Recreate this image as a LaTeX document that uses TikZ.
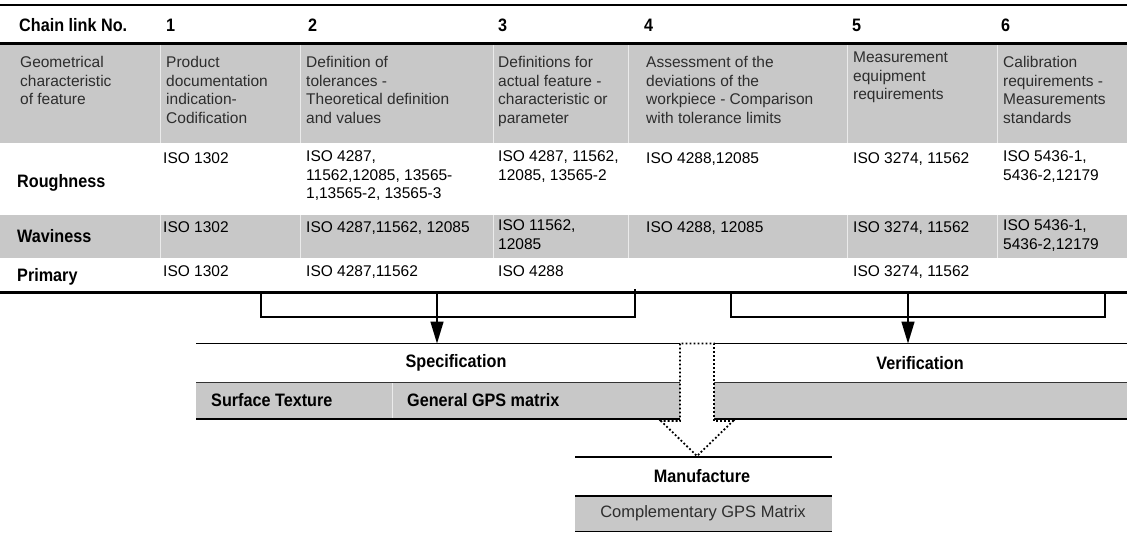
\documentclass[tikz,border=0pt]{standalone}
\usepackage{fontspec}
\setmainfont{Liberation Sans}
\newfontfamily\narrowbold{Liberation Sans}[FakeStretch=0.9]
\usetikzlibrary{arrows.meta}
\definecolor{band}{RGB}{200,200,200}
\definecolor{txt}{RGB}{45,45,45}
\definecolor{sep}{RGB}{235,235,235}
\newcommand\regf{\fontsize{15.5}{18.5}\selectfont}
\newcommand\bldf{\narrowbold\fontsize{18}{18.5}\selectfont\bfseries}
\begin{document}
\begin{tikzpicture}[x=1pt,y=-1pt,
  cell/.style={anchor=north west,inner sep=0pt,align=left,font=\regf,text=black,execute at begin node=\strut},
  desc/.style={cell,text=txt},
  lab/.style={anchor=north west,inner sep=0pt,font=\bldf,execute at begin node=\strut},
  title/.style={inner sep=0pt,font=\bldf},
  sepline/.style={draw=sep,line width=1pt},
  thick rule/.style={line width=2.3pt},
  bracket/.style={line width=2.4pt},
  stem/.style={line width=1.5pt,-{Triangle[length=22pt,width=13pt]}},
  dotarrow/.style={draw=black,line width=1.8pt,dash pattern=on 1.8pt off 2.2pt,fill=white}
]
\useasboundingbox (0,0) rectangle (1127,533);

% ---- gray bands of the table
\fill[band] (0,44) rectangle (1127,142.5);
\fill[band] (0,215) rectangle (1127,258);
\foreach \x in {160,300,493,628,847,997}{
  \draw[sepline] (\x,44) -- (\x,142.5);
  \draw[sepline] (\x,215) -- (\x,258);
}

% ---- rules
\draw[line width=2.6pt] (0,5) -- (1127,5);
\draw[thick rule] (0,43.5) -- (1127,43.5);
\draw[line width=2.1pt] (0,292.5) coordinate (ruleL) -- (1127,292.5) coordinate (ruleR);

% ---- header row
\node[lab] (hchain) at (19,18) {Chain link No.};
\node[lab] (h1) at (166,18) {1};
\node[lab] (h2) at (308,18) {2};
\node[lab] (h3) at (498,18) {3};
\node[lab] (h4) at (644,18) {4};
\node[lab] (h5) at (852,18) {5};
\node[lab] (h6) at (1001,18) {6};

% ---- description row
\node[desc] (d0) at (20,56.5) {Geometrical\\characteristic\\of feature};
\node[desc] (d1) at (166,56.5) {Product\\documentation\\indication-\\Codification};
\node[desc] (d2) at (306,56.5) {Definition of\\tolerances -\\Theoretical definition\\and values};
\node[desc] (d3) at (498,56.5) {Definitions for\\actual feature -\\characteristic or\\parameter};
\node[desc] (d4) at (646,56.5) {Assessment of the\\deviations of the\\workpiece - Comparison\\with tolerance limits};
\node[desc] (d5) at (853,52) {Measurement\\equipment\\requirements};
\node[desc] (d6) at (1003,56.5) {Calibration\\requirements -\\Measurements\\standards};

% ---- Roughness
\node[lab] (rough) at (17,174) {Roughness};
\node[cell] (r1) at (163,150.5) {ISO 1302};
\node[cell] (r2) at (306,150.5) {ISO 4287,\\11562,12085, 13565-\\1,13565-2, 13565-3};
\node[cell] (r3) at (498,150.5) {ISO 4287, 11562,\\12085, 13565-2};
\node[cell] (r4) at (646,150.5) {ISO 4288,12085};
\node[cell] (r5) at (853,150.5) {ISO 3274, 11562};
\node[cell] (r6) at (1003,150.5) {ISO 5436-1,\\5436-2,12179};

% ---- Waviness
\node[lab] (wav) at (17,229) {Waviness};
\node[cell] (w1) at (163,219.5) {ISO 1302};
\node[cell] (w2) at (306,219.5) {ISO 4287,11562, 12085};
\node[cell] (w3) at (498,219.5) {ISO 11562,\\12085};
\node[cell] (w4) at (646,219.5) {ISO 4288, 12085};
\node[cell] (w5) at (853,219.5) {ISO 3274, 11562};
\node[cell] (w6) at (1003,219.5) {ISO 5436-1,\\5436-2,12179};

% ---- Primary
\node[lab] (prim) at (17,268) {Primary};
\node[cell] (p1) at (163,263.5) {ISO 1302};
\node[cell] (p2) at (306,263.5) {ISO 4287,11562};
\node[cell] (p3) at (498,263.5) {ISO 4288};
\node[cell] (p5) at (853,263.5) {ISO 3274, 11562};

% ---- brackets
\draw[bracket] (261,292.5) -- (261,317) -- (635,317) -- (635,289);
\draw[bracket] (731,292.5) -- (731,317) -- (1105,317) -- (1105,292.5);
\coordinate (s1) at (437,292.5);
\coordinate (s2) at (908,292.5);
\coordinate (specTop) at (437,343.5);
\coordinate (verTop) at (908,343.5);
\draw[stem] (s1) -- (specTop);
\draw[stem] (s2) -- (verTop);

% ---- Specification block
\draw[line width=1.6pt] (196,343.5) -- (680,343.5);
\node[title] (spec) at (456,363) {Specification};
\fill[band] (196,382) rectangle (680,418);
\draw[sepline] (392,382) -- (392,418);
\draw[line width=0.9pt,draw=black!80] (196,382) -- (680,382);
\draw[line width=2pt] (196,418.5) -- (680,418.5);
\node[lab] (surf) at (211,393) {Surface Texture};
\node[lab] (gen) at (407,393) {General GPS matrix};

% ---- Verification block
\draw[line width=1.6pt] (714,343.5) -- (1127,343.5);
\node[title] (ver) at (920,363) {Verification};
\fill[band] (714,382) rectangle (1127,418);
\draw[line width=0.9pt,draw=black!80] (714,382) -- (1127,382);
\draw[line width=2pt] (714,418.5) -- (1127,418.5);

% ---- Manufacture block
\draw[line width=1.6pt] (575,457) -- (832,457);
\node[title] (manu) at (702,476) {Manufacture};
\fill[band] (575,496) rectangle (832,531.5);
\draw[line width=1.6pt] (575,496) -- (832,496);
\draw[line width=1.6pt] (575,531.5) -- (832,531.5);
\node[inner sep=0pt,font=\fontsize{16.5}{19}\selectfont,text=txt] (comp) at (703,513) {Complementary GPS Matrix};

% ---- dotted block arrow
\draw[dotarrow] (680,343.5) -- (680,421) -- (661,421) -- (697,456) -- (733,421) -- (714,421) -- (714,343.5) -- cycle;
\end{tikzpicture}
\end{document}
